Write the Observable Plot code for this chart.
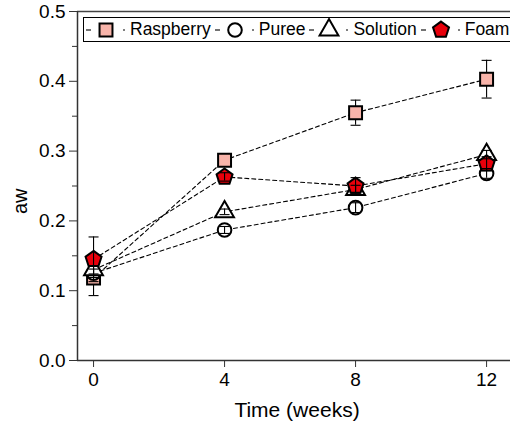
<!DOCTYPE html>
<html>
<head>
<meta charset="utf-8">
<script src="https://cdn.jsdelivr.net/npm/d3@7"></script>
<script src="https://cdn.jsdelivr.net/npm/@observablehq/plot@0.6"></script>
<style>
  body { margin: 0; background: #fff; }
  #wrap { position: relative; width: 510px; height: 430px; overflow: hidden; font-family: "Liberation Sans", Arial, sans-serif; }
  #legend { position: absolute; left: 83px; top: 17px; height: 23px; border: 1px solid #000; background: #fff;
            display: flex; align-items: center; white-space: nowrap; padding-right: 60px; }
  #legend .lab { font-size: 17.5px; color: #000; margin-right: 2px; line-height: 23px; }
  #legend svg { display: block; }
</style>
</head>
<body>
<div id="wrap"><div id="chart"></div><div id="legend"></div></div>
<script>
const weeks = [0, 4, 8, 12];
const seriesNames = ["Raspberry", "Puree", "Solution", "Foam"];
const raspberry = [0.118, 0.287, 0.355, 0.403];
const raspberryErr = [0.025, 0.006, 0.018, 0.027];
const puree = [0.125, 0.187, 0.219, 0.268];
const pureeErr = [0.006, 0.005, 0.007, 0.007];
const solution = [0.130, 0.213, 0.245, 0.295];
const solutionErr = [0.006, 0.004, 0.006, 0.006];
const foam = [0.145, 0.263, 0.250, 0.282];
const foamErr = [0.032, 0.006, 0.012, 0.010];
const yMajor = [0, 0.1, 0.2, 0.3, 0.4, 0.5];
const yMinor = [0.05, 0.15, 0.25, 0.35, 0.45];

const values = [raspberry, puree, solution, foam];
const errs = [raspberryErr, pureeErr, solutionErr, foamErr];

const pentagon = {
  draw(ctx, size) {
    const R = Math.sqrt(size / Math.PI) * 1.2;
    for (let i = 0; i < 5; i++) {
      const a = -Math.PI / 2 + i * 2 * Math.PI / 5;
      const x = R * Math.cos(a), y = R * Math.sin(a);
      i ? ctx.lineTo(x, y) : ctx.moveTo(x, y);
    }
    ctx.closePath();
  }
};
const cap = { draw(ctx) { ctx.moveTo(-5, 0); ctx.lineTo(5, 0); } };

const styles = [
  {symbol: d3.symbolSquare, fill: "#f8b4aa", r: 7.3},
  {symbol: d3.symbolCircle, fill: "#ffffff", r: 6.8},
  {symbol: d3.symbolTriangle, fill: "#ffffff", r: 7},
  {symbol: pentagon, fill: "#e8000b", r: 7}
];

const rows = [];
seriesNames.forEach((s, i) => weeks.forEach((w, j) => rows.push({series: s, idx: i, week: w, aw: values[i][j], err: errs[i][j]})));
const bySeries = i => rows.filter(d => d.idx === i);

const xDomain = [-0.49, 12.73];

function errMarks(data) {
  return [
    Plot.ruleX(data, {x: "week", y1: d => d.aw - d.err, y2: d => d.aw + d.err, stroke: "#000", strokeWidth: 1.1}),
    Plot.dot(data, {x: "week", y: d => d.aw - d.err, symbol: cap, stroke: "#000", fill: "none", strokeWidth: 1.1}),
    Plot.dot(data, {x: "week", y: d => d.aw + d.err, symbol: cap, stroke: "#000", fill: "none", strokeWidth: 1.1})
  ];
}

const plot = Plot.plot({
  width: 510,
  height: 430,
  marginLeft: 77,
  marginRight: 0,
  marginTop: 11,
  marginBottom: 70,
  style: {fontFamily: '"Liberation Sans", Arial, sans-serif', color: "#000", background: "#fff"},
  x: {domain: xDomain},
  y: {domain: [0, 0.5]},
  marks: [
    Plot.axisY({ticks: yMajor, tickFormat: d3.format(".1f"), tickSize: 8, tickPadding: 4, fontSize: 19, label: null, stroke: "#333"}),
    Plot.axisY({ticks: yMinor, tickFormat: () => "", tickSize: 5, label: null, stroke: "#333"}),
    Plot.axisX({ticks: weeks, tickSize: 7, tickPadding: 5, fontSize: 19, label: null, stroke: "#333"}),
    Plot.ruleY([0.5], {stroke: "#444", strokeWidth: 1.6}),
    Plot.ruleX([xDomain[0]], {stroke: "#333", strokeWidth: 1.5}),
    Plot.ruleY([0], {stroke: "#333", strokeWidth: 1.5}),
    Plot.line(rows, {x: "week", y: "aw", z: "series", stroke: "#000", strokeWidth: 1.1, strokeDasharray: "4,3"}),
    ...errMarks(bySeries(0)),
    ...styles.map((s, i) => Plot.dot(bySeries(i), {x: "week", y: "aw", symbol: s.symbol, r: s.r, fill: s.fill, stroke: "#000", strokeWidth: 2})),
    ...errMarks(bySeries(1)),
    ...errMarks(bySeries(2)),
    ...errMarks(bySeries(3)),
    Plot.text(["Time (weeks)"], {frameAnchor: "bottom", dy: 56, dx: 3, fontSize: 21, fill: "#000"}),
    Plot.text(["aw"], {frameAnchor: "left", dx: -57, dy: 28, rotate: -90, fontSize: 20, fill: "#000"})
  ]
});
document.getElementById("chart").appendChild(plot);

// legend
const legend = d3.select("#legend");
seriesNames.forEach((name, i) => {
  const s = styles[i];
  const svg = legend.append("svg").attr("width", 46).attr("height", 23);
  svg.append("line").attr("x1", 2).attr("x2", 7).attr("y1", 12).attr("y2", 12).attr("stroke", "#000").attr("stroke-width", 1.1);
  svg.append("line").attr("x1", 39).attr("x2", 41).attr("y1", 12).attr("y2", 12).attr("stroke", "#000").attr("stroke-width", 1.1);
  svg.append("path")
    .attr("transform", "translate(22,12)")
    .attr("d", d3.symbol(s.symbol, Math.PI * s.r * s.r)())
    .attr("fill", s.fill).attr("stroke", "#000").attr("stroke-width", 2);
  legend.append("span").attr("class", "lab").text(name);
});
</script>
</body>
</html>
